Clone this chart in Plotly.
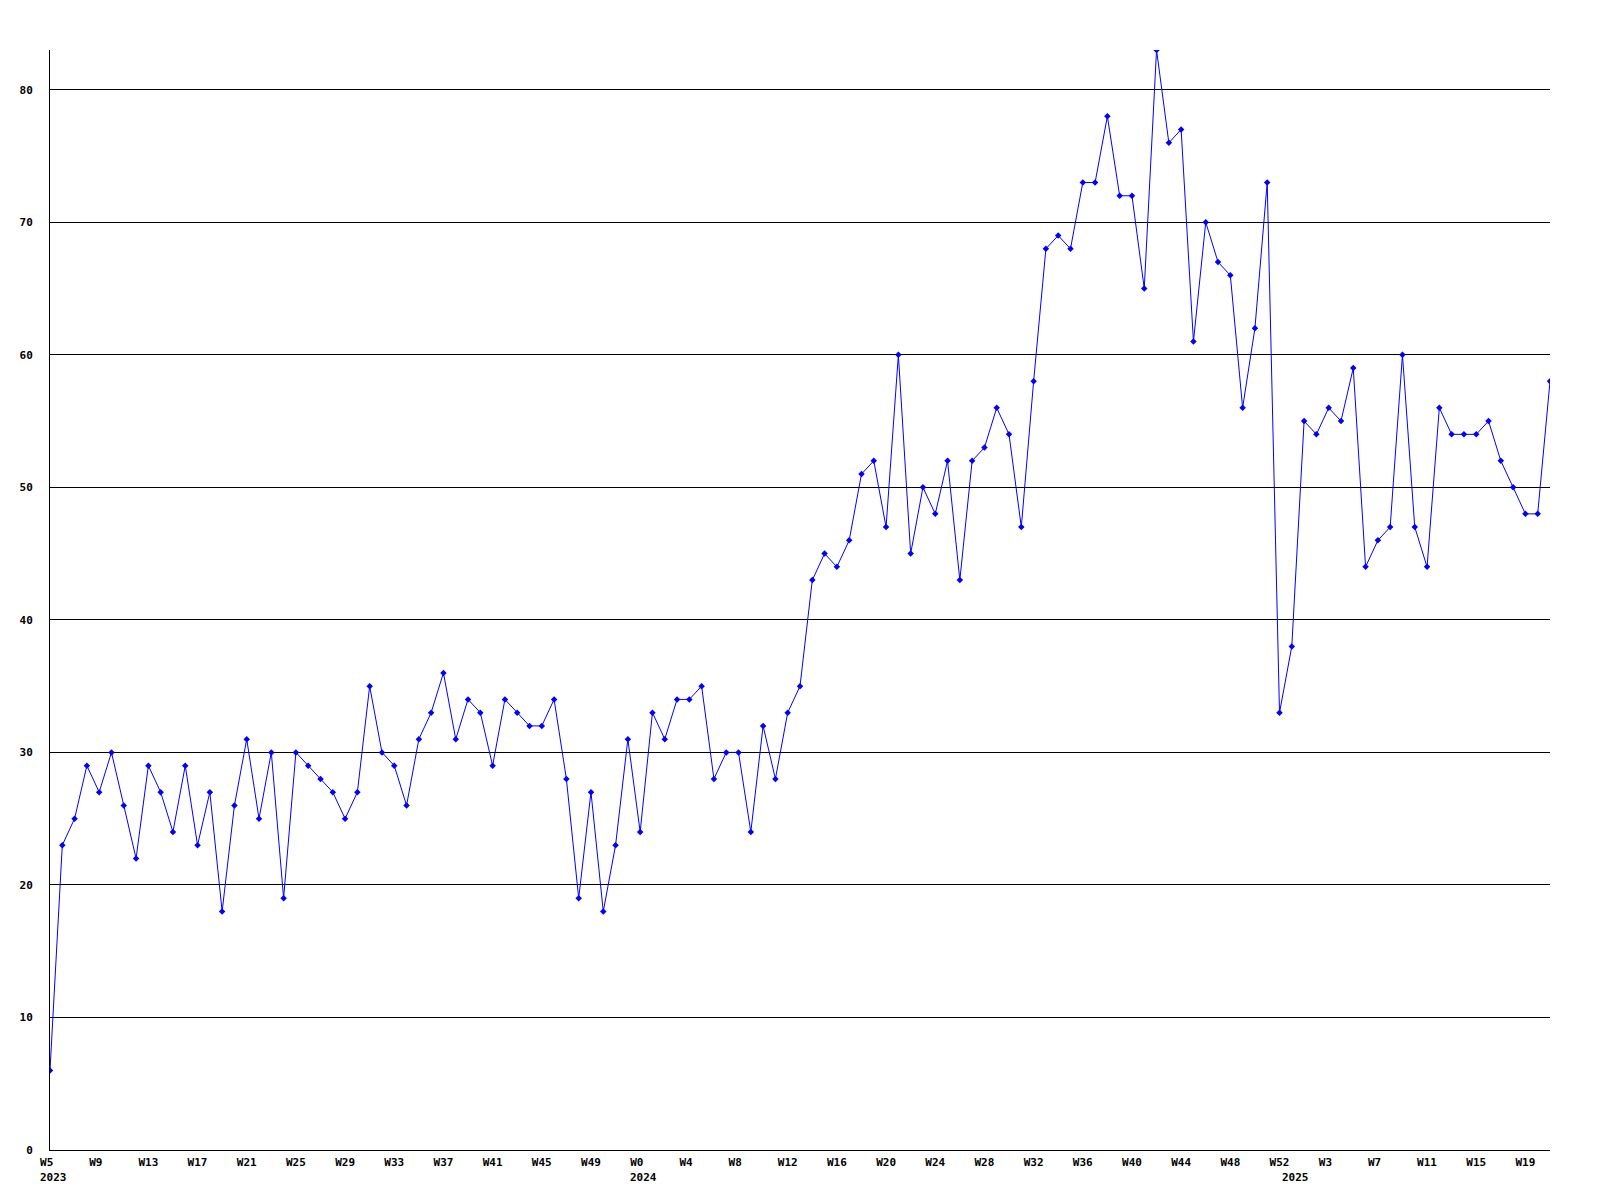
import plotly.graph_objects as go

# Weekly values, 2023 W5 .. 2025 W21 (one per week)
values = [6, 23, 25, 29, 27, 30, 26, 22, 29, 27,
          24, 29, 23, 27, 18, 26, 31, 25, 30, 19,
          30, 29, 28, 27, 25, 27, 35, 30, 29, 26,
          31, 33, 36, 31, 34, 33, 29, 34, 33, 32,
          32, 34, 28, 19, 27, 18, 23, 31, 24, 33,
          31, 34, 34, 35, 28, 30, 30, 24, 32, 28,
          33, 35, 43, 45, 44, 46, 51, 52, 47, 60,
          45, 50, 48, 52, 43, 52, 53, 56, 54, 47,
          58, 68, 69, 68, 73, 73, 78, 72, 72, 65,
          83, 76, 77, 61, 70, 67, 66, 56, 62, 73,
          33, 38, 55, 54, 56, 55, 59, 44, 46, 47,
          60, 47, 44, 56, 54, 54, 54, 55, 52, 50,
          48, 48, 58]

# Week tick labels (every 4th week)
tick_index = list(range(0, 121, 4))
tick_labels = (["W%d" % w for w in range(5, 50, 4)] +
               ["W%d" % w for w in range(0, 53, 4)] +
               ["W%d" % w for w in range(3, 20, 4)])

# Year labels and the week index where each starts
year_labels = ["2023", "2024", "2025"]
year_index = [0, 48, 101]

y_ticks = [0, 10, 20, 30, 40, 50, 60, 70, 80]

x = list(range(len(values)))

FONT = "DejaVu Sans Mono"

fig = go.Figure()
fig.add_trace(go.Scatter(
    x=x, y=values, mode="lines+markers",
    line=dict(color="#0000FF", width=1),
    marker=dict(color="#0000FF", size=5, symbol="diamond"),
    showlegend=False, hoverinfo="x+y",
))

# pad labels to a common width so they line up like left-aligned labels
pad_labels = [t + "\u00a0" * (3 - len(t)) for t in tick_labels]

for lab, idx in zip(year_labels, year_index):
    fig.add_annotation(
        x=idx, xref="x", y=-27 / 1100, yref="paper",
        text=lab, showarrow=False, xanchor="left", yanchor="middle",
        xshift=-12,
        font=dict(family=FONT, size=11, color="black", weight="bold"),
    )

fig.update_layout(
    width=1584, height=1184,
    margin=dict(l=42, r=42, t=42, b=42, pad=0),
    plot_bgcolor="white", paper_bgcolor="white",
    font=dict(family=FONT, size=11, color="black", weight="bold"),
    xaxis=dict(
        range=[0, len(values) - 1],
        tickmode="array", tickvals=tick_index, ticktext=pad_labels,
        showgrid=False, zeroline=False,
        showline=True, linecolor="black", linewidth=1,
        ticks="", ticklabelstandoff=2,
        tickfont=dict(family=FONT, size=11, color="black", weight="bold"),
        fixedrange=True, automargin=False,
    ),
    yaxis=dict(
        range=[0, 83],
        tickmode="array", tickvals=y_ticks,
        showgrid=True, gridcolor="black", gridwidth=1,
        zeroline=False,
        showline=True, linecolor="black", linewidth=1,
        ticks="", ticklabelstandoff=14,
        tickfont=dict(family=FONT, size=11, color="black", weight="bold"),
        fixedrange=True, automargin=False,
    ),
)

fig.write_html("out.html")
